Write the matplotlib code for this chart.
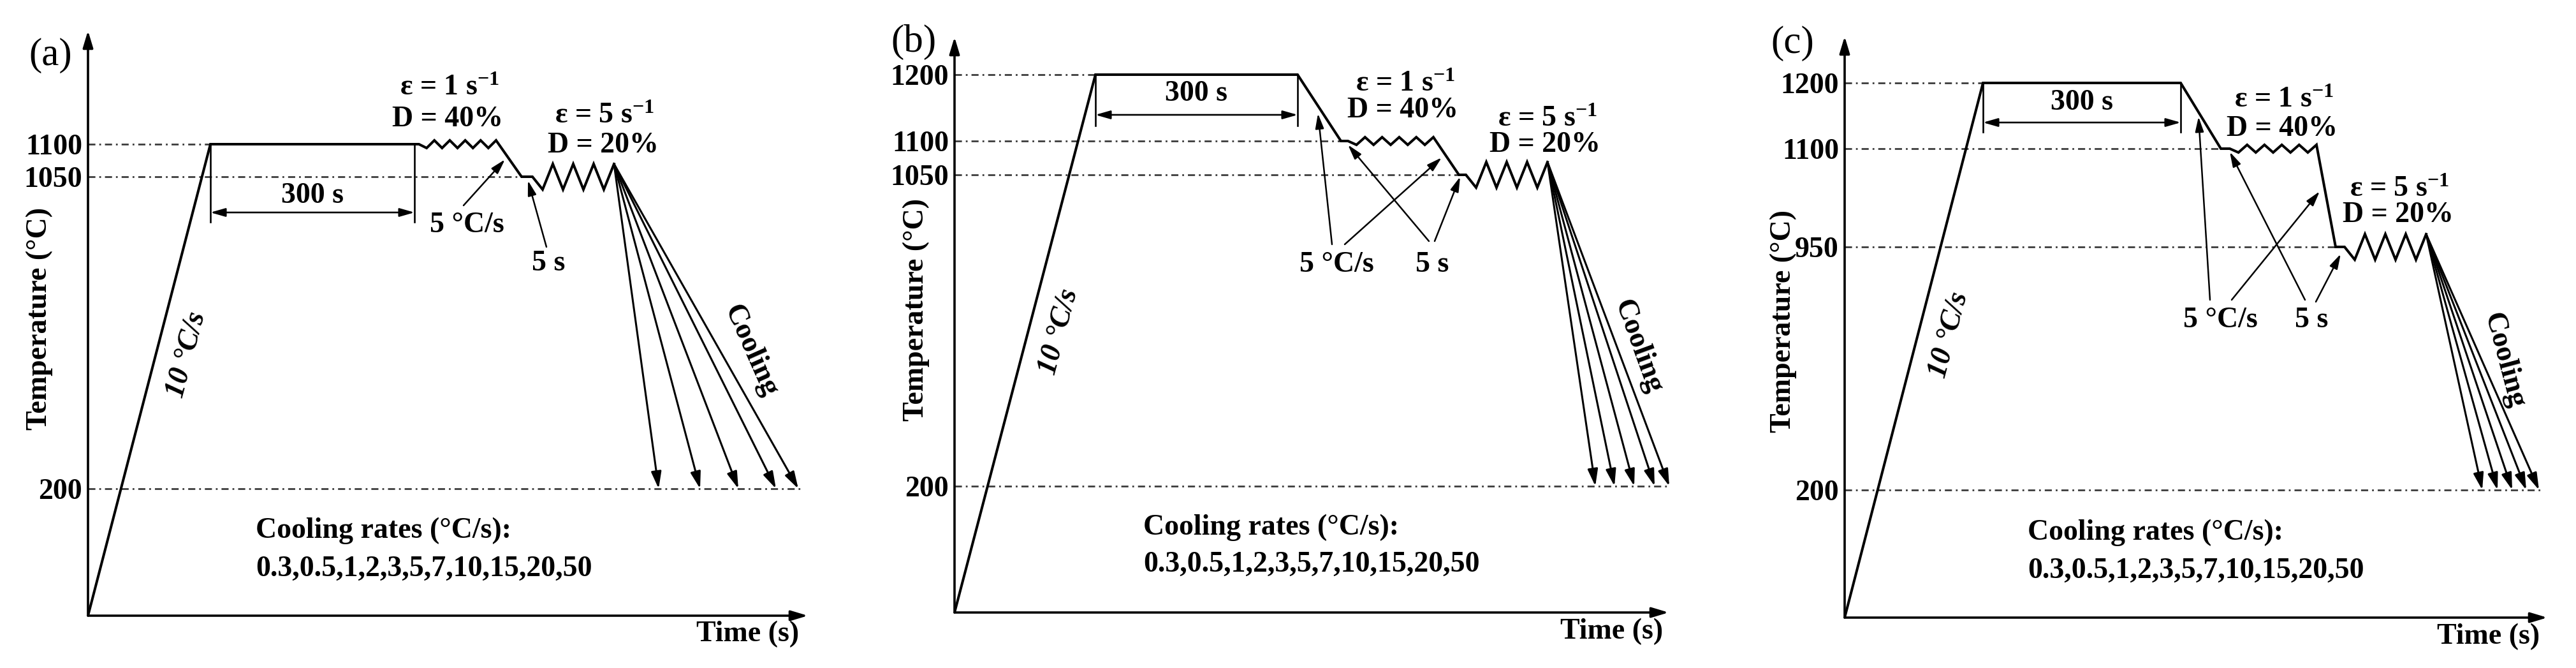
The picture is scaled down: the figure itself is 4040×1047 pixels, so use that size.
import numpy as np
import matplotlib
matplotlib.use('Agg')
import matplotlib.pyplot as plt

# ---------------- data (schematic units: time along x, temperature position along y) ----------------
PANEL_LABELS = ['(a)', '(b)', '(c)']

A_TEMPS = [200, 1050, 1100]
A_LEVELS = [199, 688, 739]
B_TEMPS = [200, 1050, 1100, 1200]
B_LEVELS = [198, 686, 739, 843]
C_TEMPS = [200, 950, 1100, 1200]
C_LEVELS = [200, 581, 735, 838]

# key points: start, end of 10 °C/s heating, end of 300 s soak, 1st deformation temp reached,
# end of 5 s hold, end of 1st deformation, 2nd deformation temp reached, end of 5 s hold, end of 2nd deformation
A_T = [0, 192, 512, 512, 519, 640, 680, 697, 825]
A_Y = [0, 739, 739, 739, 739, 739, 688, 688, 688]
B_T = [0, 221, 538, 606, 617, 751, 791, 802, 930]
B_Y = [0, 843, 843, 739, 739, 739, 686, 686, 686]
C_T = [0, 217, 527, 590, 604, 740, 770, 784, 912]
C_Y = [0, 838, 838, 735, 735, 735, 581, 581, 581]

# end times of the five drawn cooling paths (reaching 200 °C)
A_COOL_T = [895, 960, 1020, 1079, 1114]
B_COOL_T = [1005, 1035, 1066, 1098, 1121]
C_COOL_T = [1000, 1024, 1047, 1069, 1089]

# deformation squiggles (relative offsets)
WAVE_1 = [0, -1, 1, -1, 1, -1, 1, -1, 1, -1, 1]   # eps = 1 s-1, D = 40 %
ZIG_2 = [0, -1, 1, -1, 1, -1, 1, -1, 1]           # eps = 5 s-1, D = 20 %

COOLING_RATES = [0.3, 0.5, 1, 2, 3, 5, 7, 10, 15, 20, 50]
DEF_1 = ['1', '40%']
DEF_2 = ['5', '20%']

# ---------------- layout / style ----------------
W, H, DPI = 4041, 1047, 100
ORIGINS = [(138, 965), (1497, 960), (2893, 968)]
AX_EXT = [(1129, 917), (1120, 902), (1102, 911)]
WAVE_AMP = 6
ZIG_AMP = 20
FS = 33

plt.rcParams['font.family'] = ['Liberation Serif', 'DejaVu Serif']
plt.rcParams['mathtext.fontset'] = 'custom'
plt.rcParams['mathtext.rm'] = 'Liberation Serif:bold'
plt.rcParams['mathtext.bf'] = 'Liberation Serif:bold'
plt.rcParams['mathtext.it'] = 'Liberation Serif:italic'

fig = plt.figure(figsize=(W / DPI, H / DPI), dpi=DPI)
fig.patch.set_facecolor('white')


def arrow(ax, start, end, lw, ms, hl, hw, style='-|>'):
    ax.annotate('', xy=end, xytext=start, annotation_clip=False,
                arrowprops=dict(arrowstyle=f'{style},head_length={hl},head_width={hw}',
                                lw=lw, color='black', shrinkA=0, shrinkB=0,
                                mutation_scale=ms))


LAYOUTS = [
    dict(label=(79, 87), ylab=(62, 500), heat=(293, 556, 75),
         e1=(705, 138), d1=(702, 187), e2=(948, 182), d2=(946, 228),
         rate=(732, 353), hold=(860, 413),
         rate_arrows=[((727, 322), (792, 250))],
         hold_arrows=[((857, 387), (828, 283))],
         cool=(1177, 550, -66), crate=(401, 832, 892), time=(1253, 994),
         bracket=(122, 107, 81)),
    dict(label=(1433, 66), ylab=(1437, 485), heat=(1661, 520, 75),
         e1=(2204, 132), d1=(2200, 173), e2=(2427, 187), d2=(2423, 227),
         rate=(2096, 415), hold=(2246, 415),
         rate_arrows=[((2089, 383), (2067, 178)), ((2109, 383), (2261, 247))],
         hold_arrows=[((2241, 378), (2114, 227)), ((2250, 378), (2290, 277))],
         cool=(2569, 544, -70), crate=(1793, 827, 885), time=(2608, 990),
         bracket=(80, 63, 30)),
    dict(label=(2811, 68), ylab=(2797, 503), heat=(3057, 525, 75),
         e1=(3582, 157), d1=(3579, 202), e2=(3763, 297), d2=(3761, 337),
         rate=(3482, 502), hold=(3625, 502),
         rate_arrows=[((3466, 470), (3448, 183)), ((3500, 470), (3638, 300))],
         hold_arrows=[((3615, 470), (3497, 238)), ((3632, 473), (3671, 398))],
         cool=(3927, 565, -75), crate=(3180, 835, 895), time=(3983, 998),
         bracket=(77, 62, 31)),
]


def draw_panel(idx, temps, levels, T, Y, cool_t):
    lay = LAYOUTS[idx]
    ox, oy = ORIGINS[idx]
    xmax, ymax = AX_EXT[idx]
    ax = fig.add_axes([ox / W, (H - oy) / H, xmax / W, ymax / H])
    ax.set_xlim(0, xmax)
    ax.set_ylim(0, ymax)
    ax.patch.set_alpha(0)
    for s in ax.spines.values():
        s.set_visible(False)
    ax.set_xticks([])
    ax.set_yticks(levels, labels=[str(t) for t in temps])
    ax.tick_params(axis='y', length=0, pad=6.5, labelsize=FS)
    for lb in ax.get_yticklabels():
        lb.set_fontweight('bold')

    def P(px, py):
        return (px - ox, oy - py)

    # axes arrows
    arrow(ax, (0, 0), (0, ymax), 2.6, 20, 0.8, 0.24)
    arrow(ax, (0, 0), (xmax, 0), 2.6, 20, 0.8, 0.24)

    # temperature-time profile
    xs = list(T[:5])
    ys = list(Y[:5])
    wt = np.linspace(T[4], T[5], len(WAVE_1))
    xs += list(wt[1:])
    ys += [Y[4] + WAVE_AMP * o for o in WAVE_1[1:]]
    xs += [T[6], T[7]]
    ys += [Y[6], Y[7]]
    zt = np.linspace(T[7], T[8], len(ZIG_2))
    xs += list(zt[1:])
    ys += [Y[7] + ZIG_AMP * o for o in ZIG_2[1:]]
    ax.plot(xs, ys, color='black', lw=2.9, solid_joinstyle='miter', zorder=3)

    # dash-dot reference levels
    for lev in levels:
        if lev == min(levels):
            end = max(cool_t) + 3
        else:
            end = min(t for t, y in zip(T, Y) if y == lev and t > 0)
        ax.plot([0, end], [lev, lev], color='#3c3c3c', lw=2.0,
                ls=(0, (4, 2.2, 1, 2.2)), zorder=1)

    # cooling paths
    start = (xs[-1], ys[-1])
    for ct in cool_t:
        arrow(ax, start, (ct, min(levels)), 2.2, 20, 0.8, 0.24)

    # 300 s bracket
    depth, aoff, toff = lay['bracket']
    for tx in (T[1], T[2]):
        ax.plot([tx, tx], [Y[1], Y[1] - depth], color='black', lw=1.9, zorder=2)
    arrow(ax, (T[1], Y[1] - aoff), (T[2], Y[1] - aoff), 1.9, 20, 0.7, 0.2, style='<|-|>')
    ax.text((T[1] + T[2]) / 2, Y[1] - toff, '300 s', ha='center', va='center',
            fontsize=FS, fontweight='bold')

    # texts
    ax.text(*P(*lay['label']), PANEL_LABELS[idx], ha='center', va='center', fontsize=44)
    ax.text(*P(*lay['ylab']), 'Temperature (°C)', ha='center', va='center',
            rotation=90, fontsize=FS, fontweight='bold')
    hx, hy, hr = lay['heat']
    ax.text(*P(hx, hy), '10 °C/s', ha='center', va='center', rotation=hr,
            rotation_mode='anchor', fontsize=FS, fontweight='bold', fontstyle='italic')
    ax.text(*P(*lay['e1']), 'ε = ' + DEF_1[0] + r' s$^{-1}$',
            ha='center', va='center', fontsize=FS, fontweight='bold')
    ax.text(*P(*lay['d1']), 'D = ' + DEF_1[1], ha='center', va='center',
            fontsize=FS, fontweight='bold')
    ax.text(*P(*lay['e2']), 'ε = ' + DEF_2[0] + r' s$^{-1}$',
            ha='center', va='center', fontsize=FS, fontweight='bold')
    ax.text(*P(*lay['d2']), 'D = ' + DEF_2[1], ha='center', va='center',
            fontsize=FS, fontweight='bold')
    ax.text(*P(*lay['rate']), '5 °C/s', ha='center', va='center', fontsize=FS,
            fontweight='bold')
    ax.text(*P(*lay['hold']), '5 s', ha='center', va='center', fontsize=FS, fontweight='bold')
    for a, b in lay['rate_arrows'] + lay['hold_arrows']:
        arrow(ax, P(*a), P(*b), 1.8, 20, 0.7, 0.2)
    cx, cy, cr = lay['cool']
    ax.text(*P(cx, cy), 'Cooling', ha='center', va='center', rotation=cr,
            rotation_mode='anchor', fontsize=FS, fontweight='bold')
    crx, cry1, cry2 = lay['crate']
    ax.text(*P(crx, cry1), 'Cooling rates (°C/s):', ha='left', va='center',
            fontsize=FS, fontweight='bold')
    ax.text(*P(crx, cry2), ','.join(f'{r:g}' for r in COOLING_RATES), ha='left',
            va='center', fontsize=FS, fontweight='bold')
    ax.text(*P(*lay['time']), 'Time (s)', ha='right', va='center',
            fontsize=FS, fontweight='bold')


draw_panel(0, A_TEMPS, A_LEVELS, A_T, A_Y, A_COOL_T)
draw_panel(1, B_TEMPS, B_LEVELS, B_T, B_Y, B_COOL_T)
draw_panel(2, C_TEMPS, C_LEVELS, C_T, C_Y, C_COOL_T)

fig.savefig('out.png', dpi=DPI, facecolor='white')
